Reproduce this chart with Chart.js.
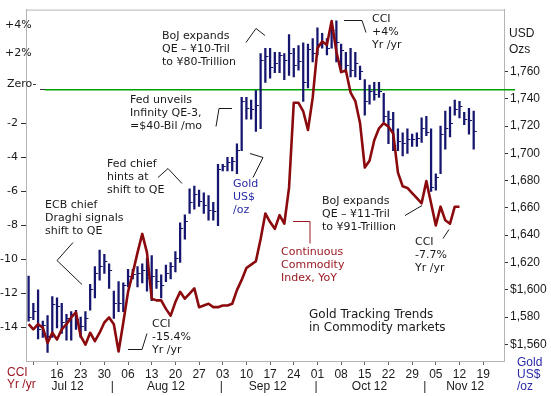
<!DOCTYPE html>
<html>
<head>
<meta charset="utf-8">
<script src="https://cdn.jsdelivr.net/npm/chart.js@4.4.0/dist/chart.umd.min.js"></script>
<style>
  html, body { margin: 0; padding: 0; background: #fff; }
</style>
</head>
<body>
<canvas id="chart" width="551" height="396"></canvas>
<script>
// x is counted in trading days (Mon-Fri) from Mon 2 Jul 2012
var FIRST_DAY = 4; // Fri 6 Jul 2012

// Gold, US$/oz, daily high / low / close, 6 Jul - 15 Nov 2012
var goldHigh = [1610, 1590, 1600, 1577, 1581, 1595, 1594, 1590, 1582, 1584, 1585, 1580, 1584,
  1604, 1617, 1629, 1626, 1619, 1599, 1606, 1605, 1615, 1615, 1617, 1619, 1623,
  1625, 1615, 1611, 1618, 1620, 1628, 1649, 1655, 1674, 1676, 1673, 1671, 1669, 1664,
  1692, 1692, 1697, 1697, 1707, 1741, 1741, 1739, 1746, 1773, 1777, 1777, 1774, 1774,
  1773, 1787, 1777, 1779, 1781, 1780, 1784, 1792, 1788, 1784, 1795, 1797, 1780, 1774,
  1777, 1774, 1764, 1754, 1750, 1752, 1752, 1744, 1731, 1730, 1718, 1715, 1718, 1714,
  1715, 1726, 1727, 1718, 1685, 1720, 1731, 1734, 1739, 1738, 1730, 1733, 1731];
var goldLow = [1577, 1578, 1564, 1565, 1554, 1565, 1572, 1568, 1563, 1563, 1571, 1565, 1570,
  1585, 1594, 1607, 1612, 1601, 1579, 1584, 1584, 1602, 1608, 1602, 1605, 1599,
  1592, 1601, 1594, 1606, 1608, 1613, 1620, 1637, 1656, 1659, 1661, 1656, 1651, 1651,
  1647, 1687, 1687, 1687, 1685, 1702, 1725, 1725, 1716, 1718, 1752, 1755, 1759, 1759,
  1754, 1757, 1756, 1761, 1738, 1748, 1767, 1772, 1777, 1772, 1777, 1767, 1759, 1759,
  1756, 1756, 1754, 1728, 1736, 1739, 1741, 1723, 1707, 1702, 1702, 1698, 1700, 1705,
  1705, 1708, 1713, 1672, 1673, 1685, 1703, 1712, 1728, 1726, 1721, 1714, 1703];
var goldClose = [1580, 1584, 1571, 1574, 1566, 1589, 1588, 1576, 1579, 1582, 1578, 1573, 1579,
  1600, 1612, 1617, 1621, 1614, 1590, 1590, 1603, 1610, 1611, 1612, 1614, 1608,
  1610, 1606, 1603, 1612, 1617, 1623, 1645, 1650, 1664, 1670, 1665, 1662, 1658, 1657,
  1688, 1690, 1693, 1694, 1702, 1738, 1733, 1732, 1735, 1768, 1771, 1763, 1766, 1772,
  1768, 1773, 1764, 1767, 1752, 1776, 1773, 1780, 1781, 1777, 1790, 1781, 1775, 1764,
  1761, 1766, 1760, 1738, 1745, 1743, 1745, 1727, 1725, 1706, 1709, 1707, 1710, 1710,
  1711, 1718, 1715, 1675, 1682, 1714, 1718, 1722, 1732, 1734, 1725, 1724, 1716];

// Continuous Commodity Index, % change year on year, 6 Jul - 12 Nov 2012
var cciYoY = [-13.8, -14.1, -13.8, -14.0, -14.9, -14.3, -14.7, -14.1, -13.8, -13.4, -13.1,
  -14.5, -15.0, -14.3, -14.8, -14.3, -13.7, -13.4, -13.8, -15.4, -13.7, -11.9, -10.8,
  -9.6, -8.5, -9.6, -12.3, -12.4, -12.4, -12.9, -13.3, -12.5, -11.9, -12.3, -12.0,
  -11.7, -12.8, -12.7, -12.6, -12.8, -12.8, -12.7, -12.7, -12.6, -11.8, -11.2, -10.5,
  -10.3, -10.1, -8.8, -7.3, -7.8, -8.2, -7.4, -7.9, -5.8, -0.8, -0.8, -1.3, -2.4,
  -0.5, 2.4, 2.8, 2.6, 4.0, 2.2, 1.0, 1.1, -0.2, -0.7, -2.0, -4.6, -4.2, -3.0, -2.3,
  -2.0, -2.2, -2.6, -4.9, -5.7, -5.8, -6.1, -6.4, -6.7, -5.4, -6.7, -8.0, -6.9, -7.7,
  -7.9, -6.9, -6.9];

// Mondays, every 5 trading days from 9 Jul
var dayTicks = ["", "16", "23", "30", "06", "13", "20", "27", "03", "10", "17", "24",
  "01", "08", "15", "22", "29", "05", "12", "19"];
var months = ["Jul 12", "Aug 12", "Sep 12", "Oct 12", "Nov 12"];
var monthStarts = [0, 22, 45, 65, 88]; // first trading day of each month
var goldTicks = [1560, 1580, 1600, 1620, 1640, 1660, 1680, 1700, 1720, 1740, 1760];
var cciTicks = [-2, -4, -6, -8, -10, -12, -14];

var NAVY = "#16166e";
var BLUE = "#2a2aa8";
var RED = "#8a0a0e";
var RED_TXT = "#9a1822";
var INK = "#1a1a1a";
var GREEN = "#00a000";
var FRAME = "#b4b4b4";
var VERDANA = "'DejaVu Sans', Verdana, sans-serif";
var ARIAL = "'Liberation Sans', Arial, sans-serif";

var notes = [
  { x: 162, y: 36, c: INK, l: ["BoJ expands", "QE \u2013 \u00a510-Tril", "to \u00a580-Trillion"] },
  { x: 372, y: 19, c: INK, l: ["CCI", "+4%", "Yr /yr"] },
  { x: 130, y: 100, c: INK, l: ["Fed unveils", "Infinity QE-3,", "=$40-Bil /mo"] },
  { x: 107, y: 164, c: INK, l: ["Fed chief", "hints at", "shift to QE"] },
  { x: 45, y: 205, c: INK, l: ["ECB chief", "Draghi signals", "shift to QE"] },
  { x: 233, y: 184, c: BLUE, l: ["Gold", "US$", "/oz"] },
  { x: 281, y: 252, c: RED_TXT, l: ["Continuous", "Commodity", "Index, YoY"] },
  { x: 322, y: 201, c: INK, l: ["BoJ expands", "QE \u2013 \u00a511-Tril", "to \u00a591-Trillion"] },
  { x: 415, y: 242, c: INK, l: ["CCI", "-7.7%", "Yr /yr"] },
  { x: 152, y: 324, c: INK, l: ["CCI", "-15.4%", "Yr /yr"] }
];
var leaders = [
  { c: INK, p: [[246, 42], [256, 28], [265, 35]] },
  { c: INK, p: [[344, 20], [362, 20], [366, 32]] },
  { c: INK, p: [[232, 108], [219, 108], [216, 126]] },
  { c: INK, p: [[158, 177], [168, 168], [182, 183]] },
  { c: INK, p: [[73, 242], [57, 260], [82, 284]] },
  { c: INK, p: [[250, 153], [263, 157], [253, 177]] },
  { c: RED_TXT, p: [[293, 221], [310, 221], [310, 243]] },
  { c: INK, p: [[405, 215], [422, 205]] },
  { c: INK, p: [[443, 238], [449, 229]] },
  { c: INK, p: [[128, 349], [142, 349], [147, 333]] }
];

var hl = goldHigh.map(function (h, i) { return { x: FIRST_DAY + i, y: [goldLow[i], h] }; });
var closes = goldClose.map(function (c, i) { return { x: FIRST_DAY + i, y: c }; });
var cci = cciYoY.map(function (v, i) { return { x: FIRST_DAY + i, y: v }; });

// close tick, drawn to the right of each high-low bar
var tick = document.createElement("canvas");
tick.width = 8;
tick.height = 1;
var tctx = tick.getContext("2d");
tctx.fillStyle = NAVY;
tctx.fillRect(4, 0, 3, 1);

function text(ctx, s, x, y, font, color, align) {
  ctx.font = font;
  ctx.fillStyle = color;
  ctx.textAlign = align || "left";
  ctx.textBaseline = "middle";
  ctx.fillText(s, x, y);
}

var decor = {
  id: "decor",
  beforeDatasetsDraw: function (chart) {
    // zero line, running out past the right axis
    var ctx = chart.ctx;
    var y = Math.round(chart.scales.yCCI.getPixelForValue(0));
    ctx.save();
    ctx.fillStyle = "#333";
    ctx.fillRect(40, y, 5, 1);
    ctx.fillStyle = GREEN;
    ctx.fillRect(45, y, 470, 1.5);
    ctx.restore();
  },
  afterDraw: function (chart) {
    var ctx = chart.ctx;
    var a = chart.chartArea;
    var xs = chart.scales.x;
    ctx.save();
    ctx.strokeStyle = FRAME;
    ctx.lineWidth = 1;
    ctx.beginPath(); ctx.moveTo(a.left, a.top + 0.5); ctx.lineTo(a.right, a.top + 0.5); ctx.stroke();

    // left axis labels that sit above the numbered ticks
    text(ctx, "+4%", 5, 25, "11px " + VERDANA, INK);
    text(ctx, "+2%", 5, 53, "11px " + VERDANA, INK);
    text(ctx, "Zero-", 7, 84, "11px " + VERDANA, INK);

    // month names and separators
    months.forEach(function (m, i) {
      var from = Math.max(monthStarts[i], xs.min);
      var to = i + 1 < monthStarts.length ? monthStarts[i + 1] - 1 : xs.max;
      text(ctx, m, xs.getPixelForValue((from + to) / 2), 387, "12px " + ARIAL, INK, "center");
      if (i > 0) text(ctx, "|", xs.getPixelForValue(monthStarts[i] - 0.3), 387, "12px " + ARIAL, INK, "center");
    });

    text(ctx, "USD", 509, 34, "12px " + ARIAL, INK);
    text(ctx, "Ozs", 509, 50, "12px " + ARIAL, INK);
    text(ctx, "CCI", 7, 373, "12px " + ARIAL, RED_TXT);
    text(ctx, "Yr /yr", 7, 385, "12px " + ARIAL, RED_TXT);
    ["Gold", "US$", "/oz"].forEach(function (s, i) {
      text(ctx, s, 517, 363 + 12 * i, "12px " + ARIAL, BLUE);
    });

    text(ctx, "Gold Tracking Trends", 309, 315, "12px " + VERDANA, INK);
    text(ctx, "in Commodity markets", 309, 328, "12px " + VERDANA, INK);

    notes.forEach(function (n) {
      n.l.forEach(function (s, i) { text(ctx, s, n.x, n.y + 13 * i, "11px " + VERDANA, n.c); });
    });
    leaders.forEach(function (d) {
      ctx.strokeStyle = d.c;
      ctx.beginPath();
      d.p.forEach(function (pt, i) {
        if (i === 0) ctx.moveTo(pt[0], pt[1] + 0.5); else ctx.lineTo(pt[0], pt[1] + 0.5);
      });
      ctx.stroke();
    });
    ctx.restore();
  }
};

Chart.defaults.font.family = VERDANA;
Chart.defaults.color = INK;

new Chart(document.getElementById("chart"), {
  type: "bar",
  data: {
    datasets: [
      {
        type: "line",
        label: "CCI YoY",
        data: cci,
        yAxisID: "yCCI",
        borderColor: RED,
        borderWidth: 2.6,
        pointRadius: 0,
        tension: 0,
        borderJoinStyle: "round"
      },
      {
        type: "scatter",
        label: "Gold close",
        data: closes,
        yAxisID: "yGold",
        pointStyle: tick,
        pointRadius: 3
      },
      {
        type: "bar",
        label: "Gold high-low",
        data: hl,
        yAxisID: "yGold",
        backgroundColor: NAVY,
        borderWidth: 0,
        barThickness: 1.6
      }
    ]
  },
  options: {
    responsive: false,
    animation: false,
    events: [],
    layout: { padding: { top: 3, left: 0, right: 0, bottom: 0 } },
    plugins: { legend: { display: false }, tooltip: { enabled: false } },
    scales: {
      x: {
        type: "linear",
        min: 3.45,
        max: 104.4,
        offset: false,
        afterFit: function (s) { s.height = 35; },
        afterBuildTicks: function (s) {
          s.ticks = dayTicks.map(function (t, i) { return { value: 5 + 5 * i }; });
        },
        ticks: {
          autoSkip: false,
          maxRotation: 0,
          padding: 2,
          font: { family: ARIAL, size: 12 },
          color: INK,
          callback: function (v, i) { return dayTicks[i]; }
        },
        grid: { drawOnChartArea: false, tickLength: 4, tickColor: "#666", offset: false },
        border: { color: FRAME }
      },
      yCCI: {
        type: "linear",
        position: "left",
        min: -15.96,
        max: 4.67,
        afterFit: function (s) { s.width = 26; },
        afterBuildTicks: function (s) {
          s.ticks = cciTicks.map(function (v) { return { value: v }; });
        },
        ticks: { padding: 3, font: { family: VERDANA, size: 11 }, color: INK },
        grid: { drawOnChartArea: false, tickLength: 5, tickColor: "#333" },
        border: { color: FRAME }
      },
      yGold: {
        type: "linear",
        position: "right",
        min: 1547.8,
        max: 1805.3,
        afterFit: function (s) { s.width = 47; },
        afterBuildTicks: function (s) {
          s.ticks = goldTicks.map(function (v) { return { value: v }; });
        },
        ticks: {
          padding: 2,
          font: { family: ARIAL, size: 12 },
          color: INK,
          callback: function (v) {
            var s = v.toLocaleString("en-US");
            return v === 1600 || v === 1560 ? "$" + s : s;
          }
        },
        grid: { drawOnChartArea: false, tickLength: 4, tickColor: "#333" },
        border: { color: FRAME }
      }
    }
  },
  plugins: [decor]
});
</script>
</body>
</html>
